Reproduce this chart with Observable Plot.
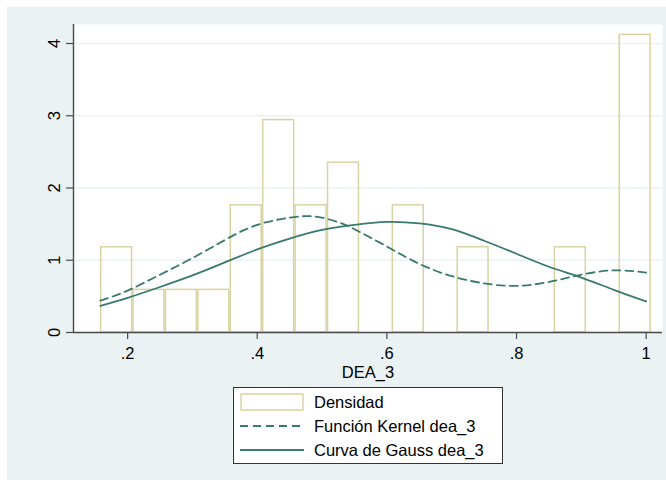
<!DOCTYPE html>
<html><head><meta charset="utf-8">
<script src="https://cdn.jsdelivr.net/npm/d3@7"></script>
<script src="https://cdn.jsdelivr.net/npm/@observablehq/plot@0.6"></script>
<style>
body{margin:0;background:#fff;font-family:"Liberation Sans",Arial,sans-serif;}
#wrap{position:relative;width:666px;height:480px;overflow:hidden;}
#bg{position:absolute;left:7px;top:7px;width:659px;height:473px;background:#eaf2f3;}
#chart{position:absolute;left:0;top:0;}
#legend{position:absolute;left:233px;top:387px;width:268px;height:75px;border:1px solid #333;background:#fff;}
.row{position:absolute;left:0;height:24px;width:268px;}
.row svg{position:absolute;left:6px;top:0;}
.row span{position:absolute;left:80px;top:0;line-height:24px;font-size:16.5px;color:#000;white-space:nowrap;}
</style></head><body>
<div id="wrap"><div id="bg"></div><div id="chart"></div><div id="legend"></div></div>
<script>
// Histogram (density) bins
const binStart = 0.158;
const binWidth = 0.05;
const densities = [1.18, 0.59, 0.59, 0.59, 1.76, 2.94, 1.76, 2.35, 0, 1.76, 0, 1.18, 0, 0, 1.18, 0, 4.12];

// Kernel density (dashed)
const kernelX = [0.158, 0.2, 0.25, 0.3, 0.35, 0.4, 0.45, 0.475, 0.5, 0.53, 0.55, 0.6, 0.65, 0.7, 0.75, 0.8, 0.85, 0.9, 0.95, 1.0];
const kernelY = [0.44, 0.58, 0.80, 1.03, 1.28, 1.49, 1.59, 1.61, 1.59, 1.51, 1.43, 1.19, 0.95, 0.78, 0.68, 0.645, 0.70, 0.80, 0.86, 0.83];

// Normal curve (solid)
const gaussX = [0.158, 0.2, 0.25, 0.3, 0.35, 0.4, 0.45, 0.5, 0.55, 0.6, 0.65, 0.7, 0.75, 0.8, 0.85, 0.9, 0.95, 1.0];
const gaussY = [0.37, 0.48, 0.63, 0.79, 0.97, 1.15, 1.30, 1.42, 1.49, 1.53, 1.51, 1.43, 1.27, 1.09, 0.91, 0.76, 0.59, 0.43];

const xTicks = [0.2, 0.4, 0.6, 0.8, 1];
const xTickLabels = [".2", ".4", ".6", ".8", "1"];
const yTicks = [0, 1, 2, 3, 4];
const yTickLabels = ["0", "1", "2", "3", "4"];
const gridTicks = [1, 2, 3, 4];
const xLabel = "DEA_3";
const legendLabels = ["Densidad", "Función Kernel dea_3", "Curva de Gauss dea_3"];

const barColor = "#d9d3a3";
const lineColor = "#387a6e";
const bgColor = "#eaf2f3";
const axisColor = "#4a4a4a";

const bins = densities.map((d, i) => ({x1: binStart + i * binWidth, x2: binStart + (i + 1) * binWidth, y: d})).filter(b => b.y > 0);
const kernel = kernelX.map((x, i) => ({x, y: kernelY[i]}));
const gauss = gaussX.map((x, i) => ({x, y: gaussY[i]}));

const chart = Plot.plot({
  width: 666,
  height: 480,
  marginLeft: 73,
  marginRight: 4,
  marginTop: 24,
  marginBottom: 148,
  style: {background: "transparent", fontFamily: '"Liberation Sans", Arial, sans-serif', fontSize: "16.5px", color: "#000"},
  x: {domain: [0.1165, 1.0252]},
  y: {domain: [0, 4.263]},
  marks: [
    Plot.frame({fill: "white", stroke: "none"}),
    Plot.gridY(gridTicks, {stroke: bgColor, strokeOpacity: 1, strokeWidth: 1.5}),
    Plot.rectY(bins, {x1: "x1", x2: "x2", y: "y", fill: "none", stroke: barColor, strokeWidth: 1.5, insetLeft: 0.75, insetRight: 0.75}),
    Plot.line(kernel, {x: "x", y: "y", curve: "natural", stroke: lineColor, strokeWidth: 1.8, strokeDasharray: "8,5"}),
    Plot.line(gauss, {x: "x", y: "y", curve: "natural", stroke: lineColor, strokeWidth: 1.8}),
    Plot.ruleY([0], {stroke: axisColor, strokeWidth: 1.4}),
    Plot.ruleX([0.1165], {stroke: axisColor, strokeWidth: 1.4}),
    Plot.axisX(xTicks, {tickSize: 7, tickPadding: 7.5, stroke: axisColor, strokeWidth: 1.2, fontSize: 16.5, fill: "#000",
      tickFormat: d => xTickLabels[xTicks.indexOf(d)], label: xLabel, labelAnchor: "center", labelOffset: 45, labelArrow: "none"}),
    Plot.axisY(yTicks, {tickSize: 7, tickPadding: 7, tickRotate: -90, stroke: axisColor, strokeWidth: 1.2, fontSize: 16.5, fill: "#000",
      tickFormat: d => yTickLabels[yTicks.indexOf(d)], label: null})
  ]
});
document.getElementById("chart").appendChild(chart);

// Legend
const legend = document.getElementById("legend");
const keys = [
  `<rect x="1" y="4" width="62" height="16" fill="white" stroke="${barColor}" stroke-width="1.5"/>`,
  `<line x1="0" x2="64" y1="12" y2="12" stroke="${lineColor}" stroke-width="1.8" stroke-dasharray="8,5"/>`,
  `<line x1="0" x2="64" y1="12" y2="12" stroke="${lineColor}" stroke-width="1.8"/>`
];
legendLabels.forEach((lab, i) => {
  const row = document.createElement("div");
  row.className = "row";
  row.style.top = (2 + 24 * i) + "px";
  row.innerHTML = `<svg width="64" height="24">${keys[i]}</svg><span>${lab}</span>`;
  legend.appendChild(row);
});
</script>
</body></html>
